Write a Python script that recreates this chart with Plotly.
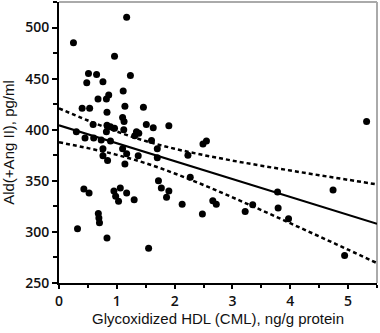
import plotly.graph_objects as go

# Scatter data (Glycoxidized HDL (CML) vs Ald(+Ang II))
cml = [0.25, 1.17, 0.96, 1.235, 0.51, 0.65, 0.48, 0.76, 0.675, 0.82,
       0.86, 1.11, 1.14, 0.40, 0.53, 1.46, 0.83, 1.10, 1.125, 0.59,
       0.83, 0.89, 0.96, 1.51, 1.63, 1.90, 1.12, 0.82, 0.30, 1.34,
       1.31, 1.38, 0.45, 0.60, 0.73, 0.89, 1.60, 1.70, 0.76, 1.10,
       1.17, 1.37, 0.76, 0.84, 1.14, 1.70, 2.23, 5.32, 2.49, 2.55,
       0.32, 0.43, 0.52, 0.68, 0.69, 0.70, 0.83, 0.95, 0.98, 1.03,
       1.06, 1.17, 1.30, 1.55, 1.72, 1.77, 1.90, 1.86, 2.13, 2.27,
       2.48, 2.66, 2.72, 3.22, 3.35, 3.78, 3.79, 3.97, 4.74, 4.94]
ald = [485, 510, 472, 453, 455, 454, 446, 447, 430, 430,
       434, 438, 423, 421, 421, 422, 417, 412, 408, 405,
       404.5, 403, 401.5, 405, 402, 404, 400, 398, 398, 398,
       394, 396.5, 392, 392, 390, 389, 389.5, 381.5, 381.5, 381.5,
       376.5, 374.5, 374.5, 370, 366.5, 372.5, 375, 408, 386, 389,
       303, 342, 338, 318, 313.5, 309, 294, 340, 335, 330,
       343, 338, 331.5, 284, 350, 343, 340, 334, 327, 353.5,
       317.5, 330.5, 327, 320, 326.5, 339, 323.5, 313, 341, 277]

# Regression line
fit_x = [0, 5.5]
fit_y = [404.3, 308.0]

# Confidence band
band_x = [0, 0.5, 1, 1.5, 2, 2.5, 3, 3.5, 4, 4.5, 5, 5.5]
band_upper = [420.9, 409.0, 398.2, 388.9, 381.4, 375.2, 369.8, 364.8, 360.1, 355.5, 351.0, 346.5]
band_lower = [387.7, 382.0, 375.4, 367.2, 357.2, 345.9, 333.8, 321.3, 308.5, 295.6, 282.6, 269.5]

x_ticks = [0, 1, 2, 3, 4, 5]
y_ticks = [250, 300, 350, 400, 450, 500]

x_title = "Glycoxidized HDL (CML), ng/g protein"
y_title = "Ald(+Ang II), pg/ml"

fig = go.Figure()
fig.add_trace(go.Scatter(x=band_x, y=band_upper, mode="lines",
                         line=dict(color="black", width=2.5, dash="4px,3px", shape="spline"),
                         hoverinfo="skip"))
fig.add_trace(go.Scatter(x=band_x, y=band_lower, mode="lines",
                         line=dict(color="black", width=2.5, dash="4px,3px", shape="spline"),
                         hoverinfo="skip"))
fig.add_trace(go.Scatter(x=fit_x, y=fit_y, mode="lines",
                         line=dict(color="black", width=2), hoverinfo="skip"))
fig.add_trace(go.Scatter(x=cml, y=ald, mode="markers", cliponaxis=False,
                         marker=dict(color="black", size=7, line=dict(width=0))))

tickfont = dict(family="Open Sans", size=14, color="#111", weight=600)
titlefont = dict(family="Liberation Sans, Arial", size=15, color="#111")

fig.update_layout(
    width=380, height=333,
    margin=dict(l=59, r=3, t=2, b=50),
    paper_bgcolor="white", plot_bgcolor="white",
    showlegend=False,
    xaxis=dict(range=[0, 5.5], tickvals=x_ticks, ticks="outside", ticklen=4,
               tickwidth=2, tickcolor="black", showline=True, linecolor="black",
               linewidth=2, showgrid=False, zeroline=False, tickfont=tickfont,
               automargin=False,
               minor=dict(dtick=0.5, ticks="outside", ticklen=3, tickwidth=1.5,
                          tickcolor="black", showgrid=False)),
    yaxis=dict(range=[250, 525], tickvals=y_ticks, ticks="outside", ticklen=5,
               tickwidth=2, tickcolor="black", showline=True, linecolor="black",
               linewidth=2, showgrid=False, zeroline=False, tickfont=tickfont,
               automargin=False,
               minor=dict(dtick=25, tick0=250, ticks="outside", ticklen=4, tickwidth=1.5,
                          tickcolor="black", showgrid=False),
               title=dict(text=y_title, font=titlefont)),
    annotations=[
        dict(text=x_title, xref="paper", yref="paper", x=0.5, y=-0.125,
             xanchor="center", yanchor="middle", showarrow=False, font=titlefont),
    ],
    shapes=[
        dict(type="line", xref="paper", yref="paper", x0=0, x1=1, y0=1, y1=1,
             line=dict(color="#aaaaaa", width=2), layer="below"),
        dict(type="line", xref="paper", yref="paper", x0=1, x1=1, y0=0, y1=1,
             line=dict(color="#aaaaaa", width=2), layer="below"),
    ],
)

fig.write_html("out.html", config={"displayModeBar": False},
               post_script="document.body.style.margin='0';document.body.style.overflow='hidden';")
